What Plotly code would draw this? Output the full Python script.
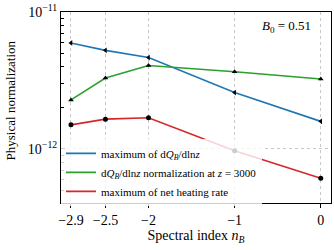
import plotly.graph_objects as go

x_vals = [-2.9, -2.5, -2.0, -1.0, 0.0]
x_ticklabels = ["−2.9", "−2.5", "−2", "−1", "0"]
blue_vals = [5.95e-12, 5.25e-12, 4.65e-12, 2.58e-12, 1.59e-12]
green_vals = [2.28e-12, 3.30e-12, 4.07e-12, 3.66e-12, 3.24e-12]
red_vals = [1.50e-12, 1.65e-12, 1.69e-12, 9.7e-13, 6.1e-13]
y_major = [1e-12, 1e-11]
y_major_labels = ["10<sup>−12</sup>", "10<sup>−11</sup>"]
y_minor = [5e-13, 6e-13, 7e-13, 8e-13, 9e-13] + [k * 1e-12 for k in range(2, 10)]

series = [
    ("maximum of d<i>Q<sub>B</sub></i>/dln<i>z</i>", blue_vals, "#1f77b4", "triangle-left"),
    ("d<i>Q<sub>B</sub></i>/dln<i>z</i> normalization at <i>z</i> = 3000", green_vals, "#2ca02c", "triangle-up"),
    ("maximum of net heating rate", red_vals, "#d62728", "circle"),
]

fig = go.Figure()
for name, vals, col, sym in series:
    fig.add_trace(go.Scatter(x=x_vals, y=vals, mode="lines", name=name,
                             line=dict(color=col, width=1.6)))
for name, vals, col, sym in series:
    fig.add_trace(go.Scatter(x=x_vals, y=vals, mode="markers", showlegend=False,
                             marker=dict(color="black", size=5, symbol=sym)))

font_family = "Liberation Serif"
fig.update_layout(
    width=334, height=250,
    margin=dict(l=61, r=2, t=6, b=47),
    paper_bgcolor="white", plot_bgcolor="white",
    font=dict(family=font_family, size=14, color="black"),
    showlegend=True,
    legend=dict(x=0.0, y=-0.015, xanchor="left", yanchor="bottom",
                bgcolor="rgba(255,255,255,0.8)", borderwidth=0,
                font=dict(size=11, family=font_family),
                tracegroupgap=0),
    xaxis=dict(range=[-3.016, 0.119], tickvals=x_vals, ticktext=x_ticklabels,
               ticks="outside", ticklen=4, tickcolor="black", tickfont=dict(size=14),
               showline=True, linecolor="black", linewidth=1, mirror=True,
               showgrid=True, gridcolor="#c8c8c8", griddash="dot", gridwidth=1,
               zeroline=False,
               title=dict(text="Spectral index <i>n<sub>B</sub></i>", standoff=2,
                          font=dict(size=14))),
    yaxis=dict(type="log", range=[-12.395, -10.9995], tickvals=y_major, ticktext=y_major_labels,
               ticks="inside", ticklen=4, tickcolor="black", ticklabeloverflow="allow",
               tickfont=dict(size=14),
               showline=True, linecolor="black", linewidth=1, mirror=True,
               showgrid=True, gridcolor="#c8c8c8", griddash="dot", gridwidth=1,
               zeroline=False,
               minor=dict(tickvals=y_minor, ticks="inside", ticklen=2.5, tickcolor="black",
                          showgrid=False)),
    annotations=[
        dict(text="<i>B</i><sub>0</sub> = 0.51", x=0.934, y=0.98,
             xref="paper", yref="paper", xanchor="right", yanchor="top",
             showarrow=False, font=dict(size=13, family=font_family)),
        dict(text="Physical normalization", textangle=-90, x=0, y=0,
             xref="paper", yref="paper", xanchor="center", yanchor="middle",
             showarrow=False, font=dict(size=13, family=font_family)),
    ],
)
# place the y-title annotation (given in pixels) in paper coordinates
plot_w = 334 - 61 - 2
plot_h = 250 - 6 - 47
fig.layout.annotations[1].x = (10 - 61) / plot_w
fig.layout.annotations[1].y = (250 - 47 - 97) / plot_h

fig.write_html("out.html", config={"displayModeBar": False},
               post_script="document.body.style.margin='0';")
